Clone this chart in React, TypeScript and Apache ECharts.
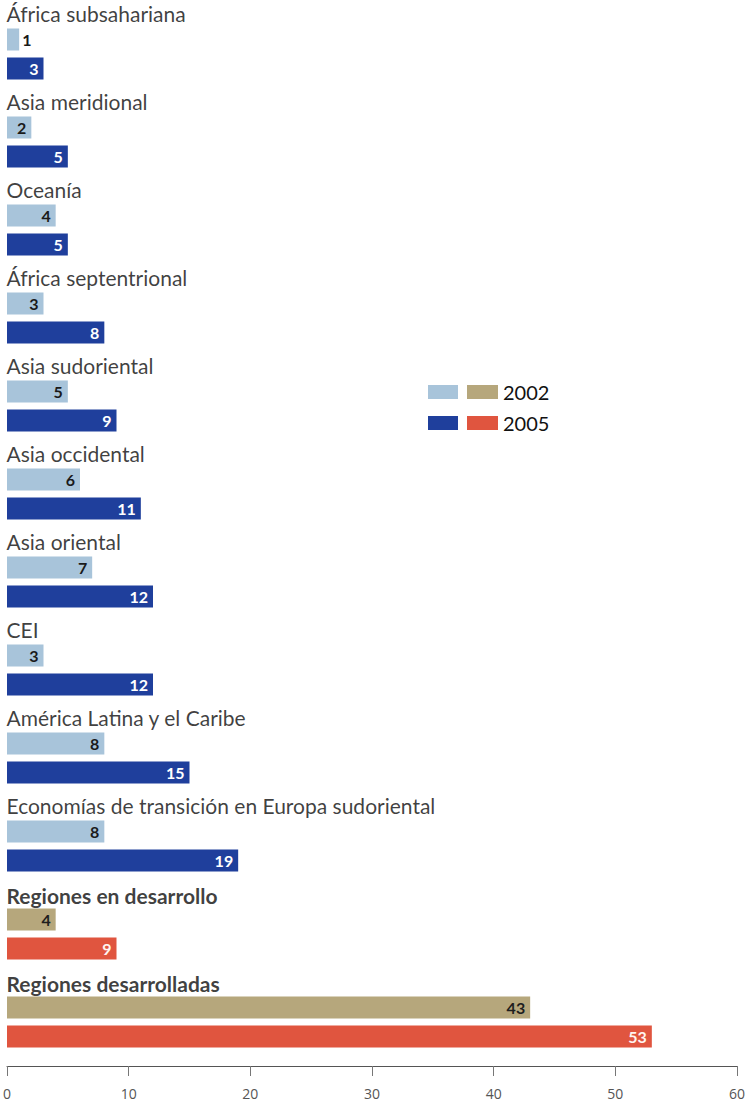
import React, { useEffect, useRef } from "react";
import * as echarts from "echarts";

const categories = [
  "África subsahariana",
  "Asia meridional",
  "Oceanía",
  "África septentrional",
  "Asia sudoriental",
  "Asia occidental",
  "Asia oriental",
  "CEI",
  "América Latina y el Caribe",
  "Economías de transición en Europa sudoriental",
  "Regiones en desarrollo",
  "Regiones desarrolladas",
];
const values2002 = [1, 2, 4, 3, 5, 6, 7, 3, 8, 8, 4, 43];
const values2005 = [3, 5, 5, 8, 9, 11, 12, 12, 15, 19, 9, 53];
// which rows are the aggregate regions (drawn in tan / red, bold names)
const aggregateRows = [false, false, false, false, false, false, false, false, false, false, true, true];
const xTicks = [0, 10, 20, 30, 40, 50, 60];

const LIGHT_BLUE = "#a8c4da";
const DARK_BLUE = "#1f3f9c";
const TAN = "#b6a77c";
const RED = "#e0553f";
const FONT = "Lato, 'Noto Sans', sans-serif";

export default function App() {
  const ref = useRef<HTMLDivElement>(null);
  useEffect(() => {
    if (!ref.current) return;
    const chart = echarts.init(ref.current, undefined, { renderer: "svg" });

    const valueLabel = (color: string) => ({
      show: true,
      position: "insideRight",
      distance: 5,
      color,
      fontFamily: FONT,
      fontWeight: "bold",
      fontSize: 16,
    });

    const data2002 = values2002.map((v, i) => {
      const agg = aggregateRows[i];
      const item: any = { value: v };
      if (agg) {
        item.itemStyle = { color: TAN };
        item.label = { color: "#1e1e1e" };
      }
      if (v <= 1) {
        item.label = { ...(item.label || {}), position: "right", distance: 3 };
      }
      return item;
    });
    const data2005 = values2005.map((v, i) => {
      const agg = aggregateRows[i];
      const item: any = { value: v };
      if (agg) {
        item.itemStyle = { color: RED };
        item.label = { color: "#fff4f0" };
      }
      return item;
    });

    const nameData = categories.map((c, i) => ({
      name: c,
      value: [0, c],
      label: aggregateRows[i] ? { fontWeight: "bold", position: [0, -38] } : undefined,
    }));

    chart.setOption({
      animation: false,
      backgroundColor: "#ffffff",
      grid: { left: 7, width: 730, top: 10, height: 1056, containLabel: false },
      xAxis: {
        type: "value",
        min: 0,
        max: 60,
        interval: 10,
        axisLine: { show: true, lineStyle: { color: "#555", width: 1 } },
        axisTick: { show: true, length: 10, lineStyle: { color: "#777" } },
        splitLine: { show: false },
        axisLabel: {
          margin: 20,
          color: "#555",
          fontSize: 14,
          fontFamily: "'Open Sans', sans-serif",
          formatter: (v: number) => (xTicks.includes(v) ? String(v) : ""),
        },
      },
      yAxis: {
        type: "category",
        data: categories,
        inverse: true,
        show: false,
      },
      legend: [
        {
          data: ["2002 ", "2005 "],
          orient: "vertical",
          left: 423,
          top: 377,
          itemWidth: 30,
          itemHeight: 14,
          itemGap: 11,
          icon: "rect",
          formatter: () => " ",
          textStyle: { fontSize: 19, lineHeight: 20 },
          selectedMode: false,
        },
        {
          data: ["2002", "2005"],
          orient: "vertical",
          left: 462,
          top: 377,
          itemWidth: 31,
          itemHeight: 14,
          itemGap: 11,
          icon: "rect",
          textStyle: { fontSize: 20, lineHeight: 20, color: "#111", fontFamily: FONT },
          selectedMode: false,
        },
      ],
      series: [
        {
          name: "2002 ",
          type: "bar",
          stack: "a",
          barWidth: 22,
          barGap: "32%",
          itemStyle: { color: LIGHT_BLUE },
          label: valueLabel("#1a1a1a"),
          data: data2002,
        },
        {
          name: "2005 ",
          type: "bar",
          stack: "b",
          barWidth: 22,
          barGap: "32%",
          itemStyle: { color: DARK_BLUE },
          label: valueLabel("#ffffff"),
          data: data2005,
        },
        {
          name: "2002",
          type: "bar",
          stack: "a",
          barWidth: 22,
          barGap: "32%",
          itemStyle: { color: TAN },
          data: [],
        },
        {
          name: "2005",
          type: "bar",
          stack: "b",
          barWidth: 22,
          barGap: "32%",
          itemStyle: { color: RED },
          data: [],
        },
        {
          name: "names",
          type: "scatter",
          symbolSize: 1,
          itemStyle: { color: "rgba(0,0,0,0)" },
          silent: true,
          label: {
            show: true,
            formatter: "{b}",
            position: [0, -40],
            align: "left",
            verticalAlign: "middle",
            fontSize: 21,
            fontFamily: FONT,
            color: "#0d0d0d",
          },
          data: nameData,
          z: 5,
        },
      ],
    });
    return () => chart.dispose();
  }, []);
  return (
    <div
      ref={ref}
      style={{ position: "absolute", left: 0, top: 0, width: 750, height: 1105, background: "#fff" }}
    />
  );
}
